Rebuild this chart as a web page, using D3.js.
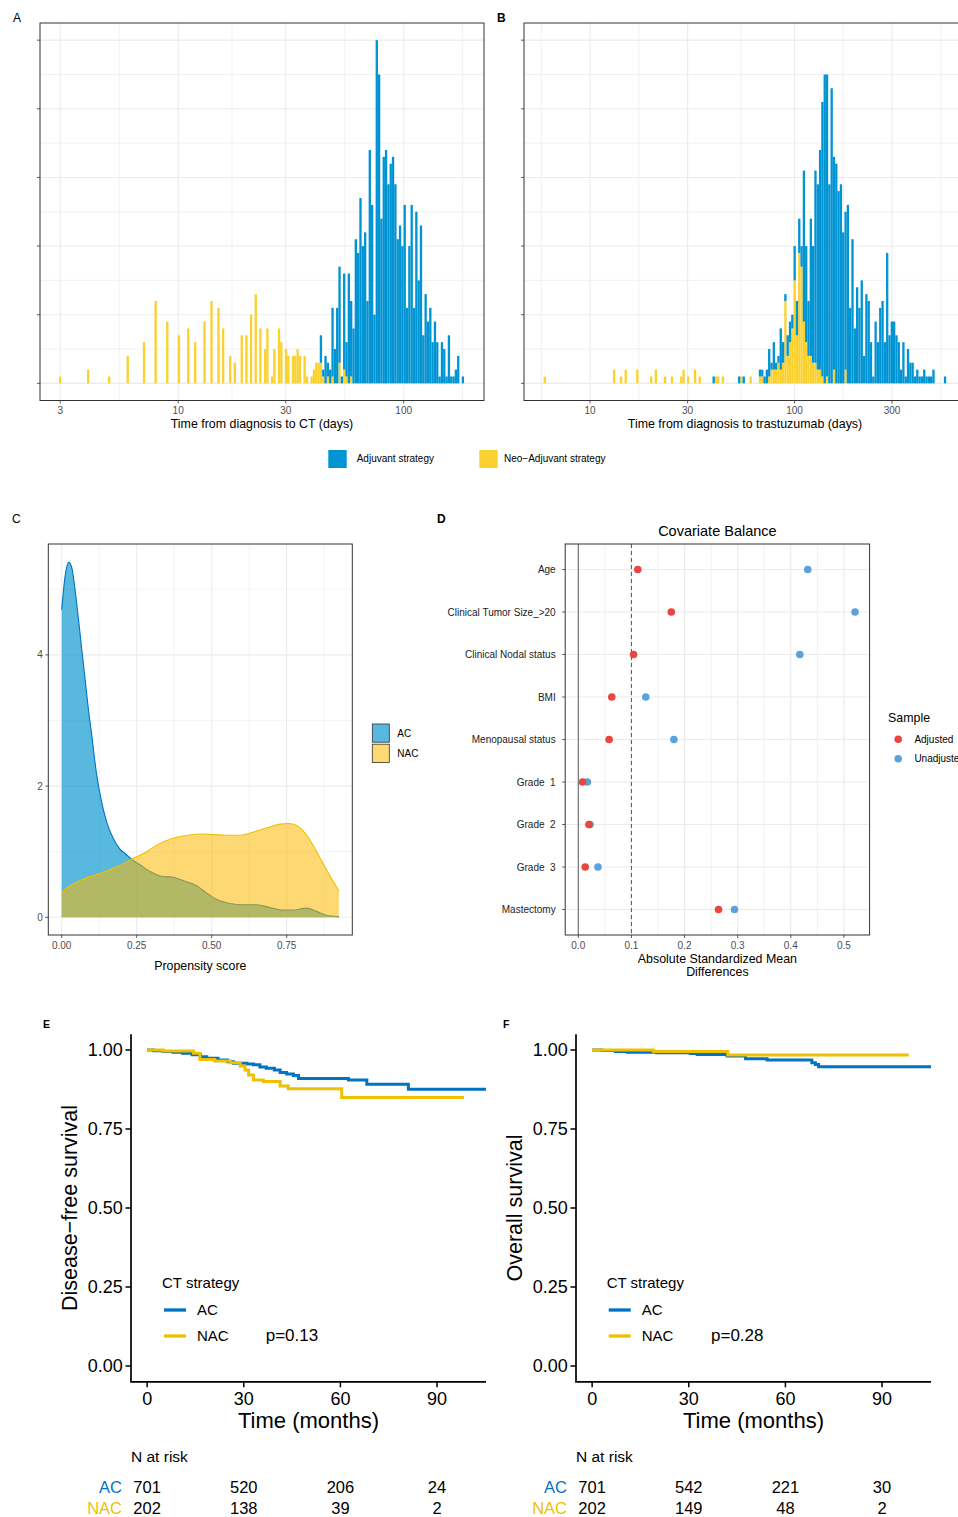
<!DOCTYPE html>
<html>
<head>
<meta charset="utf-8">
<script src="https://cdn.jsdelivr.net/npm/d3@7"></script>
<style>
  body { margin: 0; background: #fff; }
  svg { display: block; font-family: "Liberation Sans", Arial, Helvetica, sans-serif; }
  text { white-space: pre; }
</style>
</head>
<body>
<svg id="fig" width="958" height="1517"></svg>
<script>
// ---------------- Panel A: time from diagnosis to CT (days) ----------------
const ctTicks = [3, 10, 30, 100];
// neo-adjuvant patients: [day, count]
const ctNeoDays = [[3,1],[4,2],[5,1],[6,4],[7,6],[8,12],[9,9],[10,7],[11,8],[12,6],[13,9],[14,12],[15,11],[16,8],[17,4],[18,3],[19,7],[20,7],[21,10],[22,13],[23,8],[24,5],[25,8],[26,1],[27,5],[28,8],[29,6],[30,5],[31,4],[32,4],[33,4],[34,5],[35,4],[36,4],[37,1],[39,1],[40,2],[41,3],[42,3],[43,3],[44,1],[46,1],[48,1],[52,3],[54,2],[56,1],[58,1]];
// adjuvant patients: counts of consecutive log bins, first entry is bin #112
const ctAdjFirstBin = 112;
const ctAdjCounts = [4,1,4,2,2,10,5,11,14,1,14,5,16,11,8,21,19,27,20,22,12,34,26,10,50,45,24,33,34,29,32,33,29,21,23,20,26,11,20,26,11,25,15,23,7,13,9,11,6,9,6,1,6,5,1,7,1,1,2,4,0,1];

// ---------------- Panel B: time from diagnosis to trastuzumab (days) ----------------
const trastTicks = [10, 30, 100, 300];
const trastNeoDays = [[6,1],[13,2],[14,1],[15,2],[17,2],[20,1],[21,2],[23,1],[25,1],[28,1],[29,2],[30,1],[33,2],[34,1],[41,1],[42,1],[45,1],[55,1],[61,1]];
const trastNeoFirstBin = 93;
const trastNeoCounts = [1,1,0,0,1,2,2,2,3,2,3,12,4,6,8,15,7,19,17,9,6,4,4,3,3,2,2,1,0,1,0,0,2,0,0,0,0,2];
const trastAdjDays = [[40,1],[53,1],[57,1]];
const trastAdjFirstBin = 93;
const trastAdjCounts = [1,1,1,2,4,1,4,1,1,6,3,1,3,3,2,5,5,5,3,22,14,8,20,17,28,27,32,40,45,44,29,43,31,32,28,29,22,23,26,11,21,8,14,11,15,4,13,12,6,1,9,6,11,12,6,19,7,9,9,7,6,2,6,1,5,3,3,1,2,1,1,2,1,1,1,2,0,0,0,0,1];

const histGroups = ["Adjuvant strategy", "Neo\u2212Adjuvant strategy"];

// ---------------- Panel C: propensity score densities ----------------
const psAC = [0,0.011,0.023,0.033,0.044,0.055,0.066,0.077,0.088,0.1,0.116,0.133,0.15,0.172,0.194,0.217,0.233,0.261,0.294,0.328,0.372,0.417,0.45,0.483,0.517,0.561,0.606,0.65,0.694,0.739,0.772,0.817,0.85,0.883,0.924];
const densAC = [4.69,5.19,5.41,5.34,5.01,4.58,4.12,3.67,3.21,2.78,2.19,1.76,1.45,1.2,1.04,0.95,0.884,0.8,0.7,0.63,0.61,0.54,0.48,0.37,0.27,0.21,0.19,0.19,0.15,0.11,0.11,0.14,0.09,0.03,0.01];
const psNAC = [0,0.028,0.061,0.094,0.128,0.161,0.194,0.233,0.283,0.317,0.35,0.383,0.42,0.461,0.506,0.55,0.594,0.639,0.683,0.728,0.756,0.783,0.817,0.85,0.883,0.906,0.924];
const densNAC = [0.37,0.48,0.56,0.62,0.67,0.73,0.79,0.884,1.0,1.10,1.17,1.22,1.25,1.27,1.26,1.25,1.25,1.30,1.36,1.42,1.43,1.40,1.25,1.00,0.72,0.54,0.40];
const psTicks = [0, 0.25, 0.5, 0.75];
const densTicks = [0, 2, 4];

// ---------------- Panel D: covariate balance ----------------
const covariates = ["Age","Clinical Tumor Size_>20","Clinical Nodal status","BMI","Menopausal status","Grade  1","Grade  2","Grade  3","Mastectomy"];
const smdAdjusted   = [0.112,0.175,0.104,0.063,0.058,0.008,0.020,0.013,0.264];
const smdUnadjusted = [0.432,0.521,0.417,0.127,0.180,0.017,0.022,0.037,0.294];
const smdTicks = [0, 0.1, 0.2, 0.3, 0.4, 0.5];

// ---------------- Panels E/F: Kaplan-Meier ----------------
const kmTicks = [0, 30, 60, 90];
const survTicks = [0, 0.25, 0.5, 0.75, 1];
const dfsAcTime = [0,2,5,8,11,14,16.5,18.5,22,25,26.8,31,33,35,37,39.5,41.3,43.3,45.4,47,62.5,68.2,81.1,105.2];
const dfsAcSurv = [1,0.998,0.995,0.993,0.99,0.985,0.979,0.974,0.968,0.963,0.958,0.956,0.953,0.946,0.942,0.937,0.929,0.924,0.919,0.91,0.905,0.892,0.876,0.876];
const dfsNacTime = [0,5,14.4,16.4,21,25.8,28.9,30.4,31.5,33,36.1,41.3,43.8,60.4,98.4];
const dfsNacSurv = [1,0.997,0.99,0.97,0.965,0.96,0.949,0.937,0.921,0.905,0.9,0.886,0.877,0.85,0.85];
const osAcTime = [0,3,7.2,10.9,20,30.5,32.6,41.9,47.6,54.3,68.2,69.3,70.3,105.2];
const osAcSurv = [1,0.9985,0.995,0.993,0.991,0.989,0.986,0.981,0.972,0.968,0.96,0.954,0.947,0.947];
const osNacTime = [0,19.1,42.1,98.3];
const osNacSurv = [1,0.995,0.984,0.984];
const dfsRiskAc = [701,520,206,24], dfsRiskNac = [202,138,39,2];
const osRiskAc = [701,542,221,30], osRiskNac = [202,149,48,2];

// ---------------- colours ----------------
const histBlue = "#0094d3", histYellow = "#fbd130";
const jcoBlue = "#0073C2", jcoYellow = "#EFC000";
const gridCol = "#ebebeb", frameCol = "#333333", tickTextCol = "#4d4d4d";

const svg = d3.select("#fig");

function label(g, x, y, s, size, opt = {}) {
  return g.append("text").attr("x", x).attr("y", y).text(s)
    .attr("font-size", size)
    .attr("text-anchor", opt.anchor || "start")
    .attr("fill", opt.fill || "#000")
    .attr("font-weight", opt.weight || "normal");
}

// ---------------- log-binned stacked histogram ----------------
function histogram(cfg) {
  const g = svg.append("g");
  const top = 23, bottom = 400.5;
  const x = d3.scaleLog().domain(cfg.xDomain).range([cfg.left, cfg.right]);
  const y = d3.scaleLinear().domain([-2.5, 52.5]).range([bottom, top]);

  const clipId = cfg.id + "-clip";
  svg.append("clipPath").attr("id", clipId).append("rect")
    .attr("x", cfg.left).attr("y", top).attr("width", cfg.right - cfg.left).attr("height", bottom - top);
  const pg = g.append("g").attr("clip-path", `url(#${clipId})`);

  // grid: horizontal every 5, vertical major + log-midpoint minors
  pg.selectAll(".gh").data(d3.range(0, 51, 5)).join("line")
    .attr("x1", cfg.left).attr("x2", cfg.right).attr("y1", d => y(d)).attr("y2", d => y(d))
    .attr("stroke", gridCol).attr("stroke-width", d => d % 10 === 0 ? 1.1 : 0.7);
  const t = cfg.ticks;
  const minors = [t[0] / Math.sqrt(t[1] / t[0])];
  for (let i = 0; i < t.length - 1; i++) minors.push(Math.sqrt(t[i] * t[i + 1]));
  minors.push(t[t.length - 1] * Math.sqrt(t[t.length - 1] / t[t.length - 2]));
  pg.selectAll(".gm").data(minors.filter(v => v > cfg.xDomain[0] && v < cfg.xDomain[1])).join("line")
    .attr("x1", d => x(d)).attr("x2", d => x(d)).attr("y1", top).attr("y2", bottom)
    .attr("stroke", gridCol).attr("stroke-width", 0.7);
  pg.selectAll(".gv").data(t).join("line")
    .attr("x1", d => x(d)).attr("x2", d => x(d)).attr("y1", top).attr("y2", bottom)
    .attr("stroke", gridCol).attr("stroke-width", 1.1);

  // bin counts
  const lo = Math.log10(cfg.firstDay);
  const w = (Math.log10(cfg.lastDay) - lo) / (cfg.nBins - 1);
  const binOf = d => Math.round((Math.log10(d) - lo) / w);
  const neo = new Map(), adj = new Map();
  const add = (m, k, c) => m.set(k, (m.get(k) || 0) + c);
  cfg.neoDays.forEach(([d, c]) => add(neo, binOf(d), c));
  (cfg.neoCounts || []).forEach((c, i) => add(neo, cfg.neoFirst + i, c));
  (cfg.adjDays || []).forEach(([d, c]) => add(adj, binOf(d), c));
  cfg.adjCounts.forEach((c, i) => add(adj, cfg.adjFirst + i, c));
  const keys = Array.from(new Set([...neo.keys(), ...adj.keys()])).sort((a, b) => a - b);
  const bars = keys.map(k => ({ k, neo: neo.get(k) || 0, adj: adj.get(k) || 0 }));
  const x0 = k => x(Math.pow(10, lo + (k - 0.5) * w));
  const x1 = k => x(Math.pow(10, lo + (k + 0.5) * w));

  pg.selectAll(".bn").data(bars.filter(b => b.neo > 0)).join("rect")
    .attr("x", b => x0(b.k)).attr("width", b => x1(b.k) - x0(b.k))
    .attr("y", b => y(b.neo)).attr("height", b => y(0) - y(b.neo))
    .attr("fill", histYellow);
  pg.selectAll(".ba").data(bars.filter(b => b.adj > 0)).join("rect")
    .attr("x", b => x0(b.k)).attr("width", b => x1(b.k) - x0(b.k))
    .attr("y", b => y(b.neo + b.adj)).attr("height", b => y(b.neo) - y(b.neo + b.adj))
    .attr("fill", histBlue);

  g.append("rect").attr("x", cfg.left).attr("y", top).attr("width", cfg.right - cfg.left).attr("height", bottom - top)
    .attr("fill", "none").attr("stroke", frameCol).attr("stroke-width", 1);

  // y ticks (no labels)
  g.selectAll(".ty").data(d3.range(0, 51, 10)).join("line")
    .attr("x1", cfg.left - 3).attr("x2", cfg.left).attr("y1", d => y(d)).attr("y2", d => y(d))
    .attr("stroke", frameCol).attr("stroke-width", 0.8);
  // x ticks
  g.selectAll(".tx").data(t).join("line")
    .attr("x1", d => x(d)).attr("x2", d => x(d)).attr("y1", bottom).attr("y2", bottom + 3)
    .attr("stroke", frameCol).attr("stroke-width", 0.8);
  t.forEach(v => label(g, x(v), 413.6, String(v), 10, { anchor: "middle", fill: tickTextCol }));
  label(g, (cfg.left + cfg.right) / 2, 427.7, cfg.title, 12.4, { anchor: "middle" });
}

histogram({
  id: "histA", left: 40, right: 484, xDomain: [2.44, 227], ticks: ctTicks,
  firstDay: 3, lastDay: 183, nBins: 174,
  neoDays: ctNeoDays, adjFirst: ctAdjFirstBin, adjCounts: ctAdjCounts,
  title: "Time from diagnosis to CT (days)"
});
histogram({
  id: "histB", left: 524, right: 966, xDomain: [4.75, 690], ticks: trastTicks,
  firstDay: 6, lastDay: 545, nBins: 174,
  neoDays: trastNeoDays, neoFirst: trastNeoFirstBin, neoCounts: trastNeoCounts,
  adjDays: trastAdjDays, adjFirst: trastAdjFirstBin, adjCounts: trastAdjCounts,
  title: "Time from diagnosis to trastuzumab (days)"
});

// shared histogram legend
{
  const g = svg.append("g");
  const keys = [{ x: 328.3, col: histBlue, tx: 356.7 }, { x: 479.3, col: histYellow, tx: 504 }];
  keys.forEach((k, i) => {
    g.append("rect").attr("x", k.x).attr("y", 450).attr("width", 18.4).attr("height", 18).attr("fill", k.col);
    label(g, k.tx, 461.6, histGroups[i], 10);
  });
}

// ---------------- Panel C ----------------
{
  const g = svg.append("g");
  const L = 48.3, R = 352.3, T = 544, B = 935;
  const x = d3.scaleLinear().domain([-0.0447, 0.9687]).range([L, R]);
  const y = d3.scaleLinear().domain([-0.27, 5.69]).range([B, T]);
  [0.125, 0.375, 0.625, 0.875].forEach(v => g.append("line").attr("x1", x(v)).attr("x2", x(v)).attr("y1", T).attr("y2", B).attr("stroke", gridCol).attr("stroke-width", 0.6));
  [1, 3, 5].forEach(v => g.append("line").attr("x1", L).attr("x2", R).attr("y1", y(v)).attr("y2", y(v)).attr("stroke", gridCol).attr("stroke-width", 0.6));
  psTicks.forEach(v => g.append("line").attr("x1", x(v)).attr("x2", x(v)).attr("y1", T).attr("y2", B).attr("stroke", gridCol).attr("stroke-width", 1.1));
  densTicks.forEach(v => g.append("line").attr("x1", L).attr("x2", R).attr("y1", y(v)).attr("y2", y(v)).attr("stroke", gridCol).attr("stroke-width", 1.1));

  const acPts = psAC.map((p, i) => [p, densAC[i]]);
  const nacPts = psNAC.map((p, i) => [p, densNAC[i]]);
  const area = d3.area().x(d => x(d[0])).y0(y(0)).y1(d => y(d[1])).curve(d3.curveMonotoneX);
  const line = d3.line().x(d => x(d[0])).y(d => y(d[1])).curve(d3.curveMonotoneX);
  g.append("path").attr("d", area(acPts)).attr("fill", "#0092cc").attr("fill-opacity", 0.65);
  g.append("path").attr("d", line(acPts)).attr("fill", "none").attr("stroke", jcoBlue).attr("stroke-width", 1.1);
  g.append("path").attr("d", area(nacPts)).attr("fill", "#fbb800").attr("fill-opacity", 0.55);
  g.append("path").attr("d", line(nacPts)).attr("fill", "none").attr("stroke", jcoYellow).attr("stroke-width", 1.1);

  g.append("rect").attr("x", L).attr("y", T).attr("width", R - L).attr("height", B - T).attr("fill", "none").attr("stroke", frameCol).attr("stroke-width", 1);
  psTicks.forEach(v => {
    g.append("line").attr("x1", x(v)).attr("x2", x(v)).attr("y1", B).attr("y2", B + 3).attr("stroke", frameCol).attr("stroke-width", 0.8);
    label(g, x(v), 948.6, d3.format(".2f")(v), 10, { anchor: "middle", fill: tickTextCol });
  });
  densTicks.forEach(v => {
    g.append("line").attr("x1", L - 3).attr("x2", L).attr("y1", y(v)).attr("y2", y(v)).attr("stroke", frameCol).attr("stroke-width", 0.8);
    label(g, 42.7, y(v) + 3.6, String(v), 10, { anchor: "end", fill: tickTextCol });
  });
  label(g, (L + R) / 2, 969.5, "Propensity score", 12.4, { anchor: "middle" });

  // legend
  const lg = [{ name: "AC", y: 724, fill: "#0092cc", op: 0.65 }, { name: "NAC", y: 744.2, fill: "#fbb800", op: 0.55 }];
  lg.forEach(k => {
    g.append("rect").attr("x", 372.3).attr("y", k.y).attr("width", 17).attr("height", 18.2).attr("fill", "#fff");
    g.append("rect").attr("x", 372.3).attr("y", k.y).attr("width", 17).attr("height", 18.2)
      .attr("fill", k.fill).attr("fill-opacity", k.op).attr("stroke", "#333").attr("stroke-width", 0.8);
    label(g, 397.3, k.y + 12.6, k.name, 10);
  });
}

// ---------------- Panel D ----------------
{
  const g = svg.append("g");
  const L = 565.2, R = 869.6, T = 544, B = 935;
  const x = d3.scaleLinear().domain([-0.0247, 0.5484]).range([L, R]);
  const y = d3.scalePoint().domain(covariates).range([T, B]).padding(0.6);
  [0.05, 0.15, 0.25, 0.35, 0.45].forEach(v => g.append("line").attr("x1", x(v)).attr("x2", x(v)).attr("y1", T).attr("y2", B).attr("stroke", gridCol).attr("stroke-width", 0.7));
  smdTicks.forEach(v => g.append("line").attr("x1", x(v)).attr("x2", x(v)).attr("y1", T).attr("y2", B).attr("stroke", gridCol).attr("stroke-width", 1.2));
  covariates.forEach(c => g.append("line").attr("x1", L).attr("x2", R).attr("y1", y(c)).attr("y2", y(c)).attr("stroke", gridCol).attr("stroke-width", 1.2));
  g.append("line").attr("x1", x(0)).attr("x2", x(0)).attr("y1", T).attr("y2", B).attr("stroke", "#6b6b6b").attr("stroke-width", 1.1);
  g.append("line").attr("x1", x(0.1)).attr("x2", x(0.1)).attr("y1", T).attr("y2", B).attr("stroke", "#555").attr("stroke-width", 1).attr("stroke-dasharray", "4,3");

  g.selectAll(".pu").data(covariates).join("circle")
    .attr("cx", (c, i) => x(smdUnadjusted[i])).attr("cy", c => y(c)).attr("r", 3.8).attr("fill", "#5ba1dc");
  g.selectAll(".pa").data(covariates).join("circle")
    .attr("cx", (c, i) => x(smdAdjusted[i])).attr("cy", c => y(c)).attr("r", 3.8).attr("fill", "#e8463e");

  g.append("rect").attr("x", L).attr("y", T).attr("width", R - L).attr("height", B - T).attr("fill", "none").attr("stroke", frameCol).attr("stroke-width", 1);
  covariates.forEach(c => {
    g.append("line").attr("x1", L - 3).attr("x2", L).attr("y1", y(c)).attr("y2", y(c)).attr("stroke", frameCol).attr("stroke-width", 0.8);
    label(g, L - 9.5, y(c) + 3.5, c, 10, { anchor: "end", fill: "#222" });
  });
  smdTicks.forEach(v => {
    g.append("line").attr("x1", x(v)).attr("x2", x(v)).attr("y1", B).attr("y2", B + 3).attr("stroke", frameCol).attr("stroke-width", 0.8);
    label(g, x(v), 948.6, d3.format(".1f")(v), 10, { anchor: "middle", fill: tickTextCol });
  });
  label(g, (L + R) / 2, 536, "Covariate Balance", 14.5, { anchor: "middle" });
  label(g, (L + R) / 2, 962.8, "Absolute Standardized Mean", 12.4, { anchor: "middle" });
  label(g, (L + R) / 2, 976.2, "Differences", 12.4, { anchor: "middle" });

  label(g, 888.1, 722.2, "Sample", 12.4);
  g.append("circle").attr("cx", 898.2).attr("cy", 739.3).attr("r", 3.8).attr("fill", "#e8463e");
  g.append("circle").attr("cx", 898.2).attr("cy", 758.7).attr("r", 3.8).attr("fill", "#5ba1dc");
  label(g, 914.4, 742.8, "Adjusted", 10);
  label(g, 914.4, 762.2, "Unadjusted", 10);
}

// ---------------- Panels E / F ----------------
function km(cfg) {
  const g = svg.append("g");
  const ax = cfg.axisX, yTop = 1034.2, yBot = 1381.8;
  const x = d3.scaleLinear().domain([-5.01, 105.2]).range([ax, ax + 355]);
  const y = d3.scaleLinear().domain([-0.05, 1.05]).range([yBot, yTop]);
  const line = d3.line().x(d => x(d[0])).y(d => y(d[1])).curve(d3.curveStepAfter);
  const clipId = cfg.id + "-clip";
  svg.append("clipPath").attr("id", clipId).append("rect").attr("x", ax).attr("y", yTop - 5).attr("width", 356).attr("height", yBot - yTop + 5);
  const pg = g.append("g").attr("clip-path", `url(#${clipId})`);
  pg.append("path").attr("d", line(cfg.acTime.map((t, i) => [t, cfg.acSurv[i]])))
    .attr("fill", "none").attr("stroke", jcoBlue).attr("stroke-width", 3);
  pg.append("path").attr("d", line(cfg.nacTime.map((t, i) => [t, cfg.nacSurv[i]])))
    .attr("fill", "none").attr("stroke", jcoYellow).attr("stroke-width", 3);

  g.append("path").attr("d", `M${ax},${yTop}V${yBot}H${ax + 355}`).attr("fill", "none").attr("stroke", "#000").attr("stroke-width", 1.7);
  survTicks.forEach(v => {
    g.append("line").attr("x1", ax - 5.5).attr("x2", ax).attr("y1", y(v)).attr("y2", y(v)).attr("stroke", "#000").attr("stroke-width", 1.5);
    label(g, ax - 8.3, y(v) + 6.4, d3.format(".2f")(v), 18, { anchor: "end" });
  });
  kmTicks.forEach(v => {
    g.append("line").attr("x1", x(v)).attr("x2", x(v)).attr("y1", yBot).attr("y2", yBot + 5.5).attr("stroke", "#000").attr("stroke-width", 1.5);
    label(g, x(v), 1404.8, String(v), 18, { anchor: "middle" });
  });
  label(g, ax + 177.5, 1428.4, "Time (months)", 22, { anchor: "middle" });
  g.append("text").attr("transform", `translate(${cfg.titleX},1208) rotate(-90)`)
    .attr("text-anchor", "middle").attr("font-size", 21.5).text(cfg.yTitle);

  // legend + p value
  label(g, cfg.legX, 1288.4, "CT strategy", 15);
  [["AC", 1310, jcoBlue], ["NAC", 1336, jcoYellow]].forEach(([n, yy, col]) => {
    g.append("line").attr("x1", cfg.legX + 2).attr("x2", cfg.legX + 24).attr("y1", yy).attr("y2", yy).attr("stroke", col).attr("stroke-width", 3.3);
    label(g, cfg.legX + 35, yy + 5.4, n, 15);
  });
  label(g, cfg.pX, 1341, cfg.p, 17);

  // number at risk
  label(g, ax, 1462.3, "N at risk", 15.5);
  [["AC", 1493, jcoBlue, cfg.riskAc], ["NAC", 1514, jcoYellow, cfg.riskNac]].forEach(([n, yy, col, vals]) => {
    label(g, ax - 9, yy, n, 16.5, { anchor: "end", fill: col });
    kmTicks.forEach((t, i) => label(g, x(t), yy, String(vals[i]), 16.5, { anchor: "middle" }));
  });
}

km({ id: "kmE", axisX: 131, titleX: 76.5, yTitle: "Disease\u2212free survival", legX: 162, pX: 265.7, p: "p=0.13",
     acTime: dfsAcTime, acSurv: dfsAcSurv, nacTime: dfsNacTime, nacSurv: dfsNacSurv, riskAc: dfsRiskAc, riskNac: dfsRiskNac });
km({ id: "kmF", axisX: 576, titleX: 521.5, yTitle: "Overall survival", legX: 606.7, pX: 711, p: "p=0.28",
     acTime: osAcTime, acSurv: osAcSurv, nacTime: osNacTime, nacSurv: osNacSurv, riskAc: osRiskAc, riskNac: osRiskNac });

// panel letters
{
  const g = svg.append("g");
  label(g, 13, 21.5, "A", 12);
  label(g, 497, 21.5, "B", 12, { weight: "bold" });
  label(g, 12, 523, "C", 12);
  label(g, 437, 523, "D", 12, { weight: "bold" });
  label(g, 43, 1027.5, "E", 10.5, { weight: "bold" });
  label(g, 503, 1027.5, "F", 10.5, { weight: "bold" });
}
</script>
</body>
</html>
